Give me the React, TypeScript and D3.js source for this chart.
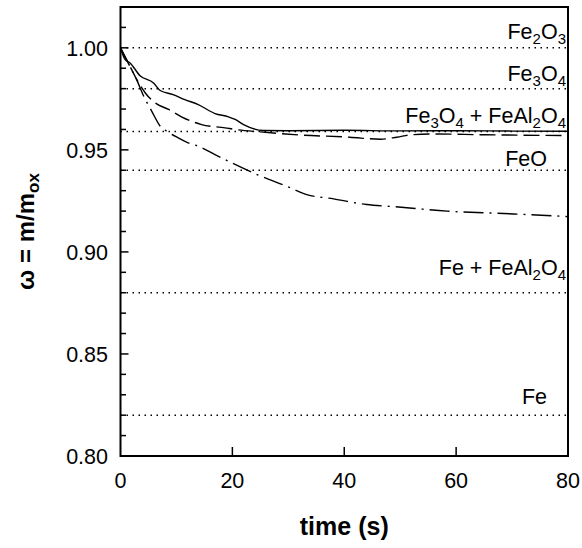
import React from "react";
import * as d3 from "d3";

// ---- data ----
const xTicks = [0, 20, 40, 60, 80];
const yTickLabels = [0.8, 0.85, 0.9, 0.95, 1.0];
const yMinorTicks = d3.range(80, 103).map((v) => v / 100);

const solidT = [0, 0.8, 1.7, 3.5, 5.9, 7.1, 9.4, 11.5, 13.9, 16.9, 19.3, 20.5, 22, 25.5, 30, 40, 50, 60, 70, 80];
const solidW = [1.0, 0.9943, 0.9926, 0.9863, 0.9828, 0.9791, 0.9771, 0.9746, 0.9722, 0.9678, 0.9662, 0.9649, 0.9624, 0.9595, 0.9594, 0.9596, 0.9593, 0.9594, 0.9592, 0.9591];

const dashT = [0, 1.4, 2.9, 4.4, 6.2, 8.6, 10.9, 14.5, 18.7, 20.5, 25, 32.1, 41, 46.5, 49.4, 52, 56, 65, 80];
const dashW = [1.0, 0.9926, 0.9845, 0.978, 0.973, 0.9698, 0.9662, 0.9624, 0.9608, 0.96, 0.9588, 0.9573, 0.9562, 0.9552, 0.9562, 0.9574, 0.9578, 0.9574, 0.957];

const dashDotT = [0, 1.4, 2.9, 4.2, 5.6, 7.1, 8.3, 10.3, 12.1, 13.9, 16.9, 19.9, 24.4, 29.7, 33.3, 38.1, 44, 48.8, 58.4, 70.3, 80];
const dashDotW = [1.0, 0.9924, 0.9843, 0.976, 0.9689, 0.9616, 0.9591, 0.9559, 0.9534, 0.9518, 0.9477, 0.9436, 0.9379, 0.9322, 0.9281, 0.926, 0.9232, 0.9222, 0.92, 0.9186, 0.9173];

const refValues = [1.0, 0.98, 0.959, 0.94, 0.88, 0.82];
const refLabelValues = [1.0041, 0.9836, 0.9632, 0.942, 0.8889, 0.8256];
const refLabels: string[][] = [
  ["Fe", "2", "O", "3"],
  ["Fe", "3", "O", "4"],
  ["Fe", "3", "O", "4", " + FeAl", "2", "O", "4"],
  ["FeO"],
  ["Fe + FeAl", "2", "O", "4"],
  ["Fe"],
];

const W = 582;
const H = 548;
const left = 120.5;
const right = 568;
const top = 7;
const bottom = 456;
const FONT = "Liberation Sans, Arial, Helvetica, sans-serif";

export default function App() {
  const x = d3.scaleLinear().domain([0, 80]).range([left, right]);
  const y = d3.scaleLinear().domain([0.8, 1.02]).range([bottom, top]);

  const line = d3
    .line<[number, number]>()
    .x((d) => x(d[0]))
    .y((d) => y(d[1]))
    .curve(d3.curveMonotoneX);

  const zip = (a: number[], b: number[]) => a.map((v, i) => [v, b[i]] as [number, number]);

  return (
    <svg
      width={W}
      height={H}
      style={{ position: "absolute", left: 0, top: 0, background: "#fff" }}
      fontFamily={FONT}
    >
      <rect x={0} y={0} width={W} height={H} fill="#fff" />
      {refValues.map((v, i) => (
        <line
          key={"r" + i}
          x1={left}
          x2={right}
          y1={y(v)}
          y2={y(v)}
          stroke="#000"
          strokeWidth={1.5}
          strokeDasharray="1.5,4.5"
        />
      ))}
      {refLabels.map((parts, i) => {
        const endsWithSub = parts.length > 1;
        return (
          <text
            key={"l" + i}
            x={endsWithSub ? 566 : 547}
            y={y(refLabelValues[i])}
            textAnchor="end"
            fontSize={21.5}
            fill="#000"
          >
            {parts.map((p, j) =>
              j % 2 === 1 ? (
                <tspan key={j} fontSize={15} dy={5}>
                  {p}
                </tspan>
              ) : (
                <tspan key={j} dy={j > 0 ? -5 : 0}>
                  {p}
                </tspan>
              )
            )}
          </text>
        );
      })}
      <path d={line(zip(solidT, solidW)) || ""} fill="none" stroke="#000" strokeWidth={1.4} />
      <path
        d={line(zip(dashT, dashW)) || ""}
        fill="none"
        stroke="#000"
        strokeWidth={1.4}
        strokeDasharray="16,6"
      />
      <path
        d={line(zip(dashDotT, dashDotW)) || ""}
        fill="none"
        stroke="#000"
        strokeWidth={1.4}
        strokeDasharray="20,6,2,6"
      />
      <rect x={left} y={top} width={right - left} height={bottom - top} fill="none" stroke="#000" strokeWidth={2} />
      {yMinorTicks.map((v, i) => {
        const major = Math.round(v * 100) % 5 === 0;
        return (
          <line
            key={"yt" + i}
            x1={left}
            x2={left + (major ? 8 : 5.5)}
            y1={y(v)}
            y2={y(v)}
            stroke="#000"
            strokeWidth={1.5}
          />
        );
      })}
      {yTickLabels.map((v, i) => (
        <text key={"yl" + i} x={108} y={y(v)} dy="0.36em" textAnchor="end" fontSize={21.5} fill="#000">
          {d3.format(".2f")(v)}
        </text>
      ))}
      {xTicks.slice(1, -1).map((v, i) => (
        <line key={"xt" + i} x1={x(v)} x2={x(v)} y1={bottom} y2={bottom - 9} stroke="#000" strokeWidth={1.5} />
      ))}
      {xTicks.map((v, i) => (
        <text key={"xl" + i} x={x(v)} y={488} textAnchor="middle" fontSize={21.5} fill="#000">
          {v}
        </text>
      ))}
      <text x={(left + right) / 2} y={535} textAnchor="middle" fontSize={25} fontWeight="bold" fill="#000">
        time (s)
      </text>
      <text
        transform={`translate(34,${(top + bottom) / 2}) rotate(-90)`}
        textAnchor="middle"
        fontSize={24}
        fontWeight="bold"
        fill="#000"
      >
        ω = m/m
        <tspan fontSize={17} dy={5}>
          ox
        </tspan>
      </text>
    </svg>
  );
}
